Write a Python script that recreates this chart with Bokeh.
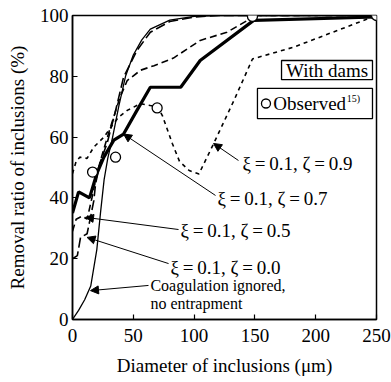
from bokeh.plotting import figure
from bokeh.models import Arrow, NormalHead, Label, Range1d, FixedTicker
from bokeh.embed import file_html
from bokeh.resources import INLINE

# ---- data ----
x_nocoag = [0, 5, 10, 15, 20, 23, 26, 29, 33, 38, 43.6, 50, 57, 64, 80, 100, 120, 250]
y_nocoag = [0, 3, 6.5, 11, 23, 35, 46, 53, 60, 70, 80, 87, 92, 95.5, 98.5, 99.7, 100, 100]

x_z00 = [0, 4, 6.6, 12, 15, 17.5, 19, 23, 28.5, 35, 42, 53, 64, 80, 100, 120, 250]
y_z00 = [20, 21, 27, 28.2, 34, 39, 44.7, 52, 58, 68, 79.7, 88.5, 94.5, 98, 99.5, 100, 100]

x_z05 = [0, 3, 8, 12, 16, 20, 25, 31, 39, 45, 56, 67, 83, 105, 127, 144, 150, 250]
y_z05 = [29, 33, 34, 33, 40, 48, 55, 63, 73, 78.6, 82, 83.5, 86, 91.8, 94.5, 98.4, 100, 100]

x_z07 = [0, 5, 14, 20, 25.8, 34, 42, 53, 64, 89, 105, 149, 250]
y_z07 = [35, 42, 40, 48, 53.4, 59, 61, 68.8, 76.4, 76.4, 85.2, 98.4, 99.5]

x_z09 = [0, 3, 6, 12, 17.5, 25.8, 32.6, 38, 45, 56, 64, 70, 74, 82, 88, 96, 104, 116, 132.7, 148, 182, 250]
y_z09 = [48, 52, 53.4, 53, 56.7, 60, 63.8, 66.6, 68.8, 71, 70.4, 70, 67, 58, 52, 49, 47.9, 57.8, 72, 85.7, 89.6, 100]

x_obs = [16.5, 35.4, 69.6, 148, 250]
y_obs = [48.5, 53.4, 69.6, 99.7, 100]

x_ticks = [0, 50, 100, 150, 200, 250]
y_ticks = [0, 20, 40, 60, 80, 100]

# annotation labels and arrows (data units)
ann_text = ["ξ\u2009=\u20090.1, ζ\u2009=\u20090.9", "ξ\u2009=\u20090.1, ζ\u2009=\u20090.7",
            "ξ\u2009=\u20090.1, ζ\u2009=\u20090.5", "ξ\u2009=\u20090.1, ζ\u2009=\u20090.0"]
ann_tx = [139.8, 119.2, 88.8, 80.6]
ann_ty = [51.3, 39.8, 29.3, 17.1]
arr_x0 = [136.5, 117.6, 87.2, 79.0, 62.5]
arr_y0 = [52.3, 40.8, 29.6, 18.4, 11.2]
arr_x1 = [116.0, 42.0, 10.7, 12.0, 14.8]
arr_y1 = [57.9, 61.0, 33.6, 27.0, 9.5]
coag_text = ["Coagulation ignored,", "no entrapment"]
coag_tx = [64.1, 64.1]
coag_ty = [11.2, 5.3]

# boxes (data units)
box_left = [171.9, 152.1]
box_right = [246.7, 246.7]
box_top = [85.2, 76.0]
box_bottom = [78.9, 66.1]

FONT = "'Liberation Serif', 'Times New Roman', serif"

p = figure(width=391, height=382, output_backend="svg", toolbar_location=None,
           x_range=Range1d(0, 250), y_range=Range1d(0, 100),
           min_border_left=72, min_border_right=15, min_border_top=15, min_border_bottom=63)
p.grid.visible = False
p.background_fill_color = "white"
p.outline_line_color = "black"
p.outline_line_width = 1.5

for ax, ticks in ((p.xaxis[0], x_ticks), (p.yaxis[0], y_ticks)):
    ax.ticker = FixedTicker(ticks=ticks)
    ax.major_tick_in = 5
    ax.major_tick_out = 0
    ax.minor_tick_in = 0
    ax.minor_tick_out = 0
    ax.axis_line_width = 1.5
    ax.major_tick_line_width = 1.2
    ax.major_label_text_font = FONT
    ax.major_label_text_font_size = "19px"
    ax.major_label_text_color = "black"
    ax.axis_label_text_font = FONT
    ax.axis_label_text_font_size = "19px"
    ax.axis_label_text_font_style = "normal"
    ax.axis_label_text_color = "black"

p.xaxis.axis_label = "Diameter of inclusions (μm)"
p.yaxis.axis_label = "Removal ratio of inclusions (%)"
p.xaxis.major_label_standoff = 9
p.xaxis.axis_label_standoff = 10
p.yaxis.major_label_standoff = 4
p.yaxis.axis_label_standoff = 9

# curves
p.line(x_nocoag, y_nocoag, line_color="black", line_width=1.3)
p.line(x_z00, y_z00, line_color="black", line_width=1.6, line_dash="10 4")
p.line(x_z05, y_z05, line_color="black", line_width=1.6, line_dash="7 4")
p.line(x_z07, y_z07, line_color="black", line_width=3.2)
p.line(x_z09, y_z09, line_color="black", line_width=1.6, line_dash="4 4")
p.scatter(x_obs, y_obs, marker="circle", size=10, fill_color="white",
          line_color="black", line_width=1.3)

# boxes
p.quad(left=box_left, right=box_right, top=box_top, bottom=box_bottom,
       fill_color="white", line_color="black", line_width=1.3)
p.add_layout(Label(x=(box_left[0] + box_right[0]) / 2, y=(box_top[0] + box_bottom[0]) / 2,
                   text="With dams", text_font=FONT, text_font_size="19px",
                   text_align="center", text_baseline="middle", text_color="black"))
leg_y = (box_top[1] + box_bottom[1]) / 2
p.scatter([box_left[1] + 7], [leg_y], marker="circle", size=9, fill_color="white",
          line_color="black", line_width=1.3)
p.add_layout(Label(x=box_left[1] + 13, y=leg_y, text="Observed", text_font=FONT,
                   text_font_size="19px", text_baseline="middle", text_color="black"))
p.add_layout(Label(x=box_left[1] + 73.5, y=leg_y + 1.8, text="15)", text_font=FONT,
                   text_font_size="10px", text_baseline="middle", text_color="black"))

# annotations
for t, tx, ty in zip(ann_text, ann_tx, ann_ty):
    p.add_layout(Label(x=tx, y=ty, text=t, text_font=FONT, text_font_size="19px",
                       text_baseline="middle", text_color="black"))
for t, tx, ty in zip(coag_text, coag_tx, coag_ty):
    p.add_layout(Label(x=tx, y=ty, text=t, text_font=FONT, text_font_size="16px",
                       text_baseline="middle", text_color="black"))
for x0, y0, x1, y1 in zip(arr_x0, arr_y0, arr_x1, arr_y1):
    p.add_layout(Arrow(x_start=x0, y_start=y0, x_end=x1, y_end=y1, line_width=1,
                       line_color="black",
                       end=NormalHead(size=8, fill_color="black", line_color="black")))

open("out.html", "w").write(file_html(p, INLINE))
